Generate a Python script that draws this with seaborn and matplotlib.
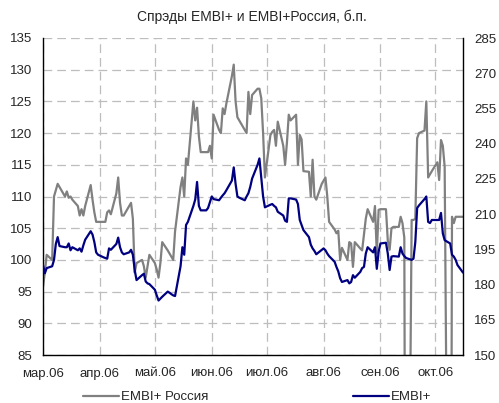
import numpy as np
import pandas as pd
import matplotlib
matplotlib.use('Agg')
import matplotlib.pyplot as plt
from matplotlib.lines import Line2D
import seaborn as sns

sns.set_style('white')
plt.rcParams['font.family'] = ['Liberation Sans', 'DejaVu Sans']

# EMBI+ Россия, б.п. (left axis), business days by month
rus_mar = [95.8, 98, 100.8, 100, 110, 111, 112, 111.5, 110, 110.8, 109.8, 110, 109.5, 108.5,
           107, 108, 107, 108.5, 111.8, 109.5, 107.5, 106, 106]
rus_apr = [106, 106, 107.5, 107.8, 107.2, 110.5, 113, 109, 107, 107, 108.5, 109, 106.5, 98,
           99.5, 100, 99, 97.2, 99, 100.8]
rus_may = [99.5, 98.5, 97.2, 99.5, 102.8, 101.5, 101, 100.5, 100, 104.5, 111.5, 113, 110, 116,
           115, 125, 122, 124, 119.5, 117, 117, 117, 118]
rus_jun = [116, 122.9, 120.5, 120, 123.9, 123, 124.7, 129, 130.8, 125, 122.5, 122, 120.5, 120,
           126.5, 123, 126, 127, 127, 125.5, 120, 113]
rus_jul = [119.7, 120.2, 120.5, 118, 121.8, 118, 115, 118.5, 122.9, 122, 122.9, 115, 119.7, 119,
           114, 113.9, 110, 115.8, 110, 109.5, 112]
rus_aug = [112.5, 113, 110, 106, 104.8, 104.2, 104.6, 100, 101.9, 100, 102.8, 102.6, 98.9, 102.8,
           101.8, 101.5, 104, 106.5, 108, 106, 108.5, 101, 107.9]
rus_sep = [108, 108, 103, 101.6, 105, 105.2, 105.2, 106.8, 105.8, 103.5, 0, 106.3, 106.3, 106.5,
           119.2, 120, 120.4, 125, 113, 113.5, 114]
rus_oct = [115.4, 112.6, 118.9, 118, 114.7, 0, 106.8, 105.8, 106.8, 106.8, 106.8]

# EMBI+, б.п. (right axis)
embi_mar = [188.3, 184.8, 187.0, 187.8, 190.5, 197.3, 200.2, 196.4, 195.9, 195.9, 197.5, 194.6,
            195.9, 194.6, 195.4, 194.0, 196.7, 199.1, 202.7, 201.3, 198.1, 193.7, 192.7]
embi_apr = [191.6, 191.3, 191.0, 195.4, 194.8, 197.3, 200.0, 195.9, 193.7, 192.9, 193.7, 194.8,
            192.7, 186.2, 181.9, 184.0, 184.6, 181.3, 180.5, 180.2]
embi_may = [177.8, 175.4, 173.2, 174.0, 174.8, 177.0, 176.5, 175.9, 175.4, 175.1, 187.8, 195.9,
            192.7, 205.4, 206.7, 213.5, 216.2, 223.7, 213.5, 211.6, 211.6, 212.6, 215.1]
embi_jun = [217.5, 216.4, 215.9, 217.0, 218.0, 218.9, 220.2, 224.3, 229.9, 222.9, 217.5, 217.0,
            215.9, 217.5, 218.9, 221.6, 225.1, 231.0, 233.7, 225.6, 217.5, 212.9]
embi_jul = [214.0, 214.3, 213.5, 212.9, 211.0, 209.4, 207.2, 206.7, 216.7, 216.7, 216.2, 214.3,
            207.5, 205.4, 203.2, 200.2, 197.0, 195.4, 194.3, 192.9, 194.8]
embi_aug = [195.4, 194.6, 193.2, 192.1, 189.7, 187.5, 185.6, 182.7, 181.1, 181.9, 180.5, 181.1,
            184.0, 182.9, 185.4, 187.0, 187.5, 193.2, 195.9, 193.7, 195.9, 186.7, 194.0]
embi_sep = [197.5, 197.8, 193.2, 186.2, 191.9, 192.1, 191.9, 195.9, 193.2, 192.1, 191.3, 190.5,
            191.0, 198.1, 212.6, 213.7, 216.4, 217.5, 206.7, 206.2, 207.5]
embi_oct = [207.5, 207.5, 210.5, 201.8, 198.9, 197.5, 192.7, 191.9, 190.5, 188.3, 185.1]

month_labels = ['мар.06', 'апр.06', 'май.06', 'июн.06', 'июл.06', 'авг.06', 'сен.06', 'окт.06']

rus = rus_mar + rus_apr + rus_may + rus_jun + rus_jul + rus_aug + rus_sep + rus_oct
embi = embi_mar + embi_apr + embi_may + embi_jun + embi_jul + embi_aug + embi_sep + embi_oct
dates = pd.bdate_range('2006-03-01', '2006-10-16')
df = pd.DataFrame({'date': dates, 'rus': rus, 'embi': embi})

fig = plt.figure(figsize=(4.99, 4.03), dpi=100)
ax = fig.add_axes([43 / 499, 1 - 355 / 403, 420 / 499, 317 / 403])
ax2 = ax.twinx()

gray = '#808080'
navy = '#000080'
sns.lineplot(data=df, x='date', y='rus', ax=ax, color=gray, lw=1.6, legend=False)
sns.lineplot(data=df, x='date', y='embi', ax=ax2, color=navy, lw=1.6, legend=False)

ax.set_xlim(pd.Timestamp('2006-03-01'), pd.Timestamp('2006-10-16'))
ax.set_ylim(85, 135)
ax2.set_ylim(150, 285)
ax.set_yticks(np.arange(85, 136, 5))
ax2.set_yticks(np.arange(150, 286, 15))
ax.set_xticks(pd.date_range('2006-03-01', '2006-10-01', freq='MS'))
ax.set_xticklabels(month_labels)
ax.set_xlabel('')
ax.set_ylabel('')
ax2.set_ylabel('')

ax.grid(True, color='#bdbdbd', linestyle=(0, (7, 4)), lw=0.9)
ax.tick_params(axis='y', length=0, pad=8, labelsize=9.5)
ax.tick_params(axis='x', length=0, pad=9, labelsize=9.5)
ax2.tick_params(axis='y', length=0, pad=8, labelsize=9.5)

for s in ['top', 'right']:
    ax.spines[s].set_visible(False)
for s in ['top', 'left', 'bottom']:
    ax2.spines[s].set_visible(False)
for a in (ax, ax2):
    for s in a.spines.values():
        s.set_color('black')
        s.set_linewidth(1.0)

fig.text(252 / 499, 1 - 17 / 403, 'Спрэды EMBI+ и EMBI+Россия, б.п.', ha='center', va='center',
         fontsize=10)

h1 = Line2D([], [], color=gray, lw=1.6)
h2 = Line2D([], [], color=navy, lw=1.6)
fig.legend([h1], ['EMBI+ Россия'], loc='center left', bbox_to_anchor=(83 / 499, 1 - 397 / 403),
           frameon=False, borderpad=0, borderaxespad=0, handlelength=2.7, handletextpad=0.2,
           fontsize=9.5)
fig.legend([h2], ['EMBI+'], loc='center left', bbox_to_anchor=(353 / 499, 1 - 397 / 403),
           frameon=False, borderpad=0, borderaxespad=0, handlelength=2.7, handletextpad=0.2,
           fontsize=9.5)

plt.savefig('out.png', dpi=100)
